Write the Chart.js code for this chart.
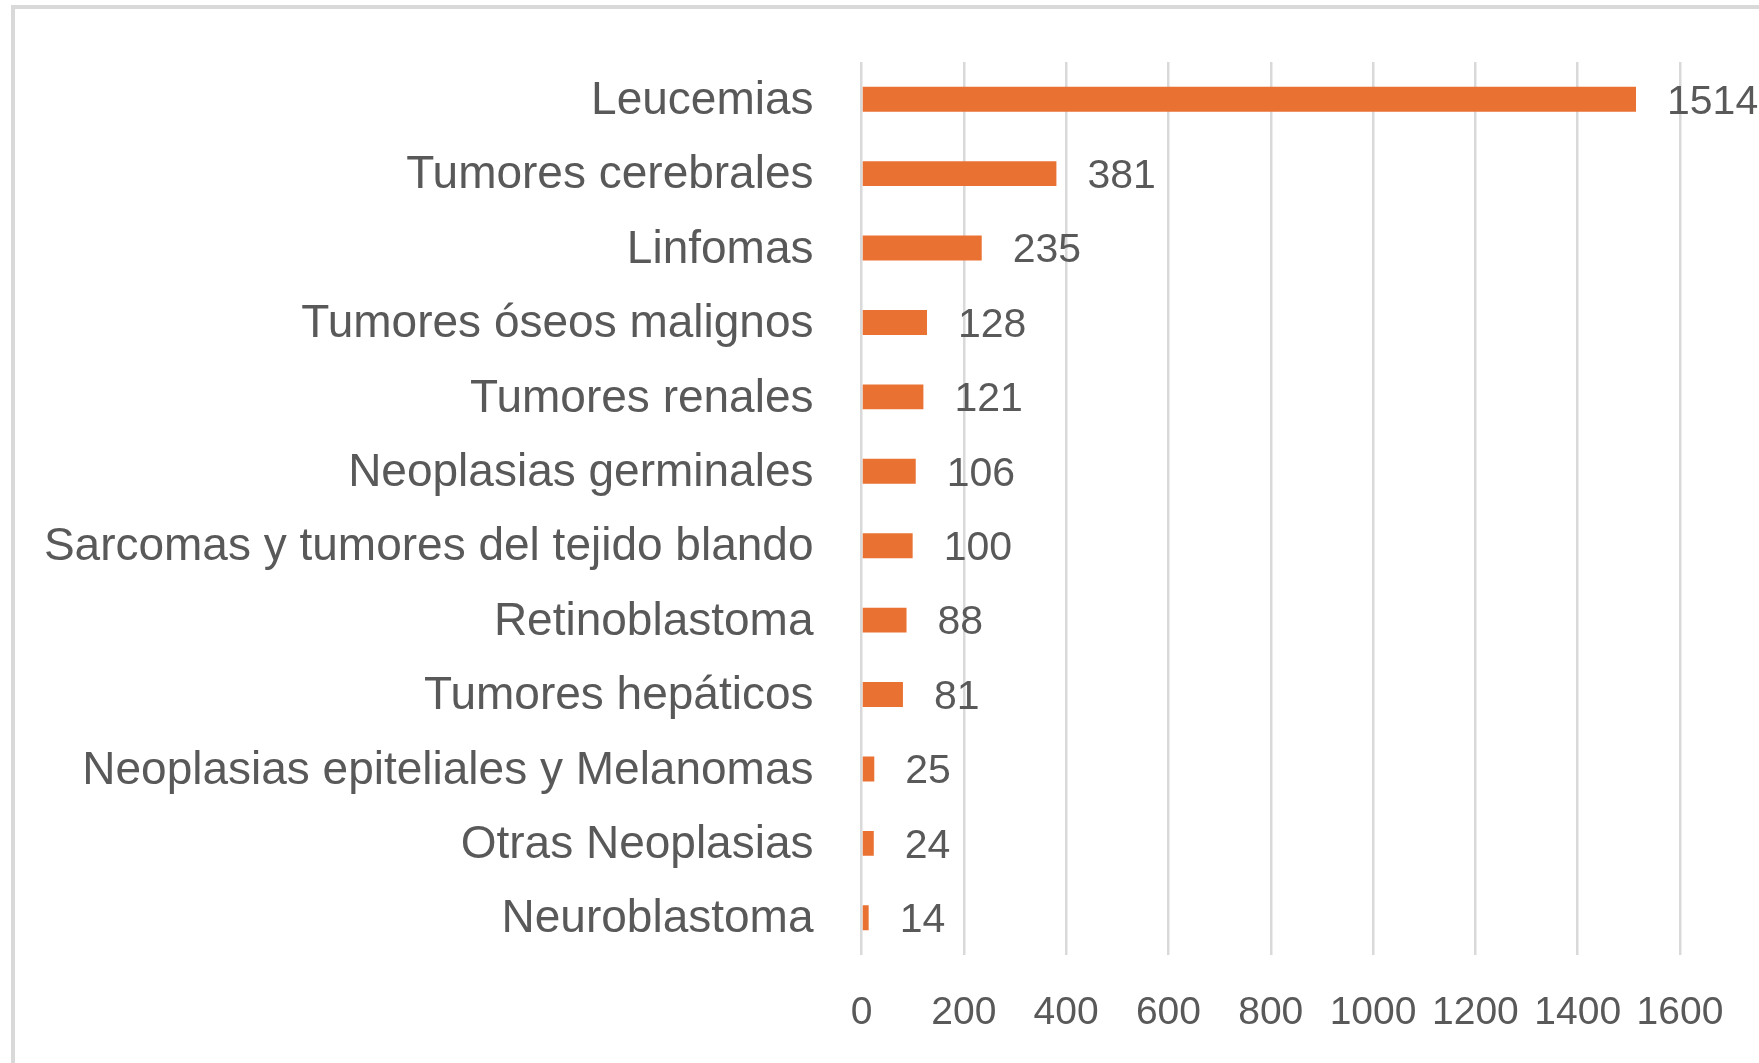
<!DOCTYPE html>
<html lang="es">
<head>
<meta charset="utf-8">
<title>Casos por tipo de cáncer</title>
<script src="https://cdn.jsdelivr.net/npm/chart.js@4"></script>
<style>
    html, body { margin: 0; background: #fff; overflow: hidden; }
    .marco {
        position: absolute;
        left: 11px;
        top: 5px;
        width: 1744px;
        height: 1054px;
        border-left: 4px solid #d9d9d9;
        border-top: 4px solid #d9d9d9;
    }
    .caja { position: absolute; left: 0; top: 0; width: 1759px; height: 1063px; }
</style>
</head>
<body>
<div class="marco"></div>
<div class="caja"><canvas id="grafico"></canvas></div>
<script>
// datos del gráfico
const categorias = [
    'Leucemias',
    'Tumores cerebrales',
    'Linfomas',
    'Tumores óseos malignos',
    'Tumores renales',
    'Neoplasias germinales',
    'Sarcomas y tumores del tejido blando',
    'Retinoblastoma',
    'Tumores hepáticos',
    'Neoplasias epiteliales y Melanomas',
    'Otras Neoplasias',
    'Neuroblastoma'
]
const casos = [1514, 381, 235, 128, 121, 106, 100, 88, 81, 25, 24, 14]
const ticksX = [0, 200, 400, 600, 800, 1000, 1200, 1400, 1600]

const gris = '#595959'
const naranja = '#E97132'
const fuente = '"Liberation Sans", Arial, sans-serif'

// plugin simple para escribir el valor al final de cada barra
const etiquetas = {
    id: 'etiquetas',
    afterDatasetsDraw(chart) {
        const ctx = chart.ctx
        const meta = chart.getDatasetMeta(0)
        ctx.save()
        ctx.font = '41px ' + fuente
        ctx.fillStyle = gris
        ctx.textAlign = 'left'
        ctx.textBaseline = 'middle'
        meta.data.forEach((barra, i) => {
            ctx.fillText(casos[i], barra.x + 31, barra.y + 3)
        })
        ctx.restore()
    }
}

const ctx = document.getElementById('grafico').getContext('2d')

new Chart(ctx, {
    type: 'bar',
    data: {
        labels: categorias,
        datasets: [{
            data: casos,
            backgroundColor: naranja,
            borderWidth: 0,
            barPercentage: 0.335,
            categoryPercentage: 1
        }]
    },
    options: {
        indexAxis: 'y',
        responsive: true,
        maintainAspectRatio: false,
        animation: false,
        layout: {
            padding: { top: 62, right: 79, bottom: 0, left: 0 }
        },
        plugins: {
            legend: { display: false },
            tooltip: { enabled: false }
        },
        scales: {
            x: {
                min: ticksX[0],
                max: ticksX[ticksX.length - 1],
                afterBuildTicks: (escala) => {
                    escala.ticks = ticksX.map(v => ({ value: v }))
                },
                afterFit: (escala) => { escala.height = 108 },
                grid: { color: '#d9d9d9', lineWidth: 2.5, drawTicks: false },
                border: { display: false },
                ticks: {
                    color: gris,
                    padding: 35,
                    maxRotation: 0,
                    autoSkip: false,
                    callback: (valor) => String(valor),
                    font: { family: fuente, size: 39 }
                }
            },
            y: {
                afterFit: (escala) => {
                    escala.width = 861.5
                    // sin relleno extra arriba/abajo para que el área empiece en y=62
                    escala.paddingTop = 0
                    escala.paddingBottom = 0
                },
                grid: { display: false, drawTicks: false },
                border: { display: false },
                ticks: {
                    color: gris,
                    padding: 48,
                    labelOffset: 2,
                    autoSkip: false,
                    font: { family: fuente, size: 46 }
                }
            }
        }
    },
    plugins: [etiquetas]
})
</script>
</body>
</html>
